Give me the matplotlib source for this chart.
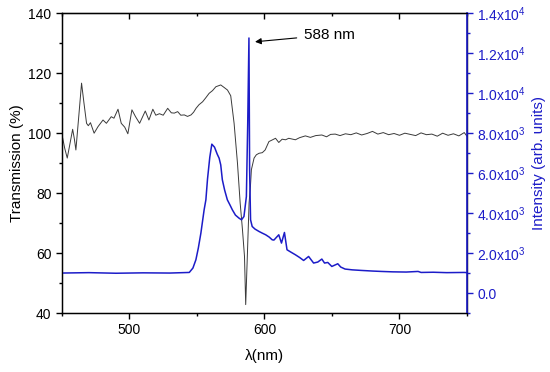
import matplotlib
matplotlib.use("Agg")
import matplotlib.pyplot as plt
from matplotlib.ticker import MultipleLocator, FixedLocator, FixedFormatter

plt.rcParams['font.family'] = ['Liberation Sans', 'DejaVu Sans']
plt.rcParams['mathtext.fontset'] = 'custom'
plt.rcParams['mathtext.rm'] = 'Liberation Sans'

# Transmission curve (black)
trans_wl = [450, 452, 453.9, 455.5, 457.9, 459.2, 460.3, 462.5, 464.5, 466.3,
            468.2, 469.5, 471.1, 473.8, 476.7, 480.4, 482.9, 486.5, 488.5, 491.5,
            493.9, 496.5, 498.8, 501.8, 504.5, 507.5, 511.7, 514.4, 517.3, 519.5,
            522.2, 525, 528.3, 531, 533.2, 535.7, 538, 540.6, 543, 545.6,
            547.5, 549.3, 551.5, 554.2, 556.5, 559, 561.5, 564, 567.6, 570,
            572.6, 575, 577.5, 580, 582, 583.7, 585.2, 586.1, 587.3, 588.6,
            589.6, 590.3, 592.3, 594, 596, 598.4, 600.5, 603.3, 606, 608.2,
            610.6, 613.1, 615.6, 618, 622.9, 626, 630.3, 634, 638, 642.5,
            646, 649, 652.4, 656, 660, 664, 668, 672, 676, 680,
            684, 688, 692, 696, 700, 704, 708, 712, 716, 720,
            724, 728, 732, 736, 740, 744, 748, 750]
trans_val = [99.5, 95.0, 91.7, 95.5, 101.3, 98.0, 94.4, 106.0, 116.7, 110.0,
             103.3, 102.5, 103.5, 100.0, 102.2, 104.4, 103.3, 105.5, 105.0, 108.0,
             103.3, 102.0, 99.8, 107.8, 105.5, 103.3, 107.4, 104.4, 108.0, 106.0,
             106.5, 106.0, 108.3, 106.8, 106.7, 107.2, 106.0, 106.1, 105.6, 106.1,
             107.0, 108.3, 109.5, 110.5, 111.8, 113.3, 114.2, 115.5, 116.1, 115.3,
             114.4, 112.5, 103.3, 90.0, 76.7, 67.8, 58.9, 42.8, 58.9, 76.7,
             82.2, 87.8, 91.7, 92.8, 93.3, 93.5, 94.4, 97.2, 97.8, 98.3,
             96.9, 98.0, 97.8, 98.3, 97.8, 98.5, 99.1, 98.6, 99.2, 99.4,
             98.8, 99.6, 99.7, 99.2, 99.8, 99.5, 100.1, 99.4, 99.9, 100.6,
             99.7, 100.2, 99.5, 99.9, 99.3, 100.0, 99.6, 99.2, 100.1, 99.5,
             99.7, 99.0, 100.0, 99.3, 99.8, 99.1, 100.2, 99.0]

# Emission intensity curve (blue)
int_wl = [450, 470, 490, 510, 530, 544.3, 547, 549.2, 551, 552.9,
          555.3, 556.6, 557.8, 559.5, 561, 563, 565, 566.4, 567.6, 568.8,
          570.5, 572.5, 574.5, 576.2, 578.5, 581.1, 583, 584.8, 586.6, 587.6,
          588.5, 589, 589.7, 590.9, 593, 596, 598.3, 600.9, 603.5, 605.7,
          607, 610.6, 612.6, 614.8, 616.7, 619.5, 622.9, 626, 629, 632.7,
          636.4, 639.5, 642.5, 644.5, 646.9, 649.9, 654.3, 656.5, 659.7, 665,
          672, 680, 686.7, 695, 705, 713.8, 716, 725, 735, 748,
          750]
int_val = [1000, 1020, 990, 1010, 1000, 1030, 1250, 1665, 2250, 3000,
           4165, 4665, 5700, 6800, 7450, 7300, 6950, 6750, 6415, 5665,
           5150, 4665, 4400, 4165, 3900, 3750, 3665, 3830, 4830, 8500,
           12765, 6165, 3665, 3330, 3200, 3080, 3000, 2915, 2800, 2665,
           2650, 2915, 2500, 3030, 2165, 2050, 1915, 1780, 1630, 1830,
           1500, 1550, 1700, 1500, 1530, 1330, 1465, 1300, 1200, 1160,
           1130, 1100, 1080, 1060, 1050, 1080, 1030, 1040, 1020, 1030,
           1020]

x_ticks = [500, 600, 700]
left_ticks = [40, 60, 80, 100, 120, 140]
right_ticks = [0, 2000, 4000, 6000, 8000, 10000, 12000, 14000]
right_labels = ['0.0', r'2.0x10$^{3}$', r'4.0x10$^{3}$', r'6.0x10$^{3}$', r'8.0x10$^{3}$',
                r'1.0x10$^{4}$', r'1.2x10$^{4}$', r'1.4x10$^{4}$']

blue = '#1c1cc8'

fig = plt.figure(figsize=(5.5, 3.72), dpi=100)
ax = fig.add_axes([0.1127, 0.1586, 0.7363, 0.8056])
ax.plot(trans_wl, trans_val, color='#3a3a3a', lw=0.7)
ax.set_xlim(450, 750)
ax.set_ylim(40, 140)
ax.xaxis.set_major_locator(FixedLocator(x_ticks))
ax.xaxis.set_minor_locator(MultipleLocator(50))
ax.yaxis.set_major_locator(FixedLocator(left_ticks))
ax.yaxis.set_minor_locator(MultipleLocator(10))
ax.tick_params(axis='both', which='major', direction='out', length=4, width=1, labelsize=10)
ax.tick_params(axis='both', which='minor', direction='out', length=2.5, width=1)
ax.set_ylabel('Transmission (%)', fontsize=11, labelpad=3)
ax.set_xlabel('λ(nm)', fontsize=11, labelpad=8)
for s in ax.spines.values():
    s.set_linewidth(1.0)

sec = ax.secondary_xaxis('top')
sec.xaxis.set_major_locator(FixedLocator(x_ticks))
sec.xaxis.set_minor_locator(MultipleLocator(50))
sec.tick_params(which='major', direction='in', length=4, width=1, labeltop=False)
sec.tick_params(which='minor', direction='in', length=2.5, width=1)

ax2 = ax.twinx()
ax2.plot(int_wl, int_val, color=blue, lw=1.1)
ax2.set_ylim(-1000, 14000)
ax2.yaxis.set_major_locator(FixedLocator(right_ticks))
ax2.yaxis.set_major_formatter(FixedFormatter(right_labels))
ax2.yaxis.set_minor_locator(MultipleLocator(1000))
ax2.tick_params(axis='y', which='major', direction='out', length=4, width=1, colors=blue, labelsize=10)
ax2.tick_params(axis='y', which='minor', direction='out', length=2.5, width=1, colors=blue)
ax2.spines['right'].set_color(blue)
ax2.spines['right'].set_linewidth(1.2)
ax2.set_ylabel('Intensity (arb. units)', fontsize=11, color=blue, labelpad=4)

ax.annotate('588 nm', xy=(593, 130.5), xytext=(629, 132.8), textcoords='data',
            fontsize=11, va='center', ha='left',
            arrowprops=dict(arrowstyle='-|>', color='black', lw=0.8, mutation_scale=9,
                            shrinkA=3, shrinkB=0))

fig.savefig('out.png', dpi=100)
